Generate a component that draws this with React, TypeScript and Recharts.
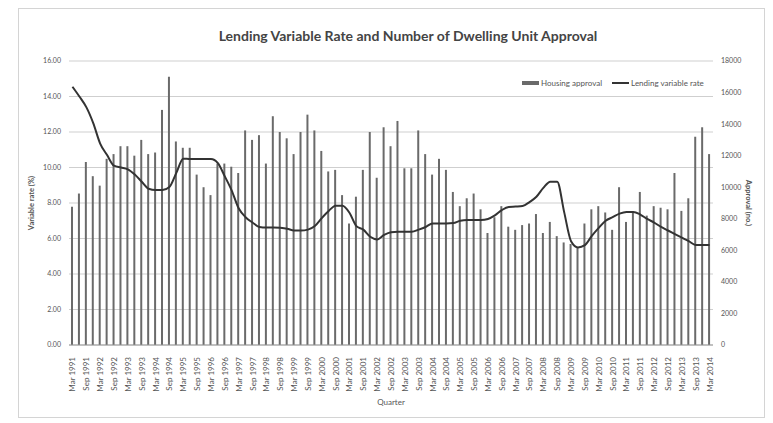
import React from "react";
import {
  ComposedChart,
  Bar,
  Line,
  XAxis,
  YAxis,
  CartesianGrid,
  Label,
} from "recharts";

// Quarter labels, Mar 1991 .. Mar 2014
const quarterMonths = ["Mar", "Jun", "Sep", "Dec"];
const quarters: string[] = [];
for (let yr = 1991; yr <= 2014; yr++) {
  for (const m of quarterMonths) {
    if (yr === 2014 && m !== "Mar") break;
    quarters.push(`${m} ${yr}`);
  }
}

// Dwelling unit approvals per quarter (no.)
const approvals = [
  8770, 9600, 11600, 10700, 10100, 11800, 12100, 12600, 12600, 12000,
  13000, 12100, 12200, 14900, 17000, 12900, 12500, 12500, 10800, 10000,
  9500, 11500, 11500, 11300, 10900, 13600, 13000, 13300, 11500, 14500,
  13500, 13100, 12100, 13500, 14600, 13600, 12300, 11000, 11100, 9500,
  7700, 9400, 11100, 13500, 10600, 13800, 12600, 14200, 11200, 11200,
  13600, 12100, 10800, 11800, 11100, 9700, 8800, 9300, 9600, 8600,
  7100, 8100, 8800, 7500, 7300, 7600, 7700, 8300, 7100, 7800,
  6900, 6500, 6400, 6200, 7700, 8600, 8800, 8400, 7300, 10000,
  7800, 8400, 9700, 8200, 8800, 8700, 8600, 10900, 8500, 9300,
  13200, 13800, 12100,
];

// Lending variable rate (%)
const variableRate = [
  14.55, 14.0, 13.4, 12.5, 11.35, 10.7, 10.1, 10.0, 9.9, 9.6,
  9.2, 8.8, 8.73, 8.73, 8.9, 9.7, 10.5, 10.48, 10.48, 10.48,
  10.48, 10.25, 9.5, 8.7, 7.7, 7.2, 6.9, 6.65, 6.62, 6.62,
  6.6, 6.55, 6.45, 6.45, 6.5, 6.7, 7.15, 7.55, 7.85, 7.85,
  7.45, 6.7, 6.5, 6.1, 5.95, 6.2, 6.35, 6.38, 6.38, 6.38,
  6.5, 6.65, 6.85, 6.85, 6.85, 6.87, 7.0, 7.04, 7.04, 7.04,
  7.1, 7.3, 7.6, 7.78, 7.8, 7.83, 8.05, 8.35, 8.85, 9.2,
  9.2, 7.5, 5.85, 5.5, 5.63, 6.15, 6.6, 7.0, 7.2, 7.4,
  7.5, 7.5, 7.35, 7.1, 6.9, 6.65, 6.45, 6.25, 6.05, 5.85,
  5.63, 5.63, 5.63,
];

const rateTicks = [0, 2, 4, 6, 8, 10, 12, 14, 16];
const approvalTicks = [0, 2000, 4000, 6000, 8000, 10000, 12000, 14000, 16000, 18000];

const data = quarters.map((q, i) => ({
  quarter: q,
  approval: approvals[i],
  rate: variableRate[i],
}));

const FONT = "Lato, 'Open Sans', sans-serif";
const BAR_COLOR = "#6a6a6a";
const LINE_COLOR = "#333333";

function QuarterTick(props: any) {
  const { x, y, payload } = props;
  return (
    <g transform={`translate(${x},${y + 4})`}>
      <text
        transform="rotate(-90)"
        textAnchor="end"
        dy={3}
        fontSize={8}
        fill="#555"
        fontFamily={FONT}
      >
        {payload.value}
      </text>
    </g>
  );
}

// Series key, placed in the upper right of the plot
function SeriesKey() {
  return (
    <div
      style={{
        position: "absolute",
        left: 522,
        top: 78,
        display: "flex",
        gap: 10,
        fontSize: 8,
        color: "#555",
        fontFamily: FONT,
        alignItems: "center",
      }}
    >
      <span style={{ display: "flex", alignItems: "center" }}>
        <span
          style={{
            display: "inline-block",
            width: 17,
            height: 4,
            background: BAR_COLOR,
            marginRight: 2,
          }}
        />
        Housing approval
      </span>
      <span style={{ display: "flex", alignItems: "center" }}>
        <span
          style={{
            display: "inline-block",
            width: 17,
            height: 2,
            background: LINE_COLOR,
            marginRight: 2,
          }}
        />
        Lending variable rate
      </span>
    </div>
  );
}

export default function App() {
  return (
    <div
      style={{
        position: "absolute",
        left: 0,
        top: 0,
        width: 773,
        height: 423,
        background: "#fff",
        fontFamily: FONT,
      }}
    >
      <div
        style={{
          position: "absolute",
          left: 18,
          top: 8,
          width: 745,
          height: 408,
          border: "1px solid #d4d4d4",
        }}
      />
      <div
        style={{
          position: "absolute",
          left: 0,
          top: 27,
          width: 816,
          textAlign: "center",
          fontSize: 14,
          fontWeight: 700,
          color: "#444",
        }}
      >
        Lending Variable Rate and Number of Dwelling Unit Approval
      </div>
      <ComposedChart
        width={773}
        height={423}
        data={data}
        margin={{ top: 61, right: 10, bottom: 16, left: 9 }}
        barCategoryGap={0}
        style={{ position: "absolute", left: 0, top: 0 }}
      >
        <CartesianGrid
          yAxisId="rate"
          vertical={false}
          stroke="#cfcfcf"
          strokeWidth={1}
        />
        <XAxis
          dataKey="quarter"
          interval={1}
          height={62}
          tick={<QuarterTick />}
          tickLine={false}
          axisLine={{ stroke: "#999" }}
        >
          <Label
            value="Quarter"
            position="insideBottom"
            offset={2}
            fontSize={8}
            fill="#555"
            fontFamily={FONT}
          />
        </XAxis>
        <YAxis
          yAxisId="rate"
          orientation="left"
          domain={[0, 16]}
          ticks={rateTicks}
          width={60}
          tickFormatter={(v: number) => v.toFixed(2)}
          tick={{ fontSize: 7, fill: "#555", fontFamily: FONT }}
          tickLine={false}
          axisLine={false}
        >
          <Label
            value="Variable rate (%)"
            angle={-90}
            position="insideLeft"
            offset={22}
            fontSize={7.5}
            fontWeight={700}
            fill="#555"
            fontFamily={FONT}
            style={{ textAnchor: "middle" }}
          />
        </YAxis>
        <YAxis
          yAxisId="approval"
          orientation="right"
          domain={[0, 18000]}
          ticks={approvalTicks}
          width={50}
          tick={{ fontSize: 7, fill: "#555", fontFamily: FONT }}
          tickLine={false}
          axisLine={false}
        >
          <Label
            value="Approval (no.)"
            angle={90}
            position="insideRight"
            offset={14}
            fontSize={7.5}
            fontWeight={700}
            fill="#555"
            fontFamily={FONT}
            style={{ textAnchor: "middle" }}
          />
        </YAxis>
        <Bar
          yAxisId="approval"
          dataKey="approval"
          name="Housing approval"
          fill={BAR_COLOR}
          barSize={2}
          isAnimationActive={false}
        />
        <Line
          yAxisId="rate"
          dataKey="rate"
          name="Lending variable rate"
          type="monotone"
          stroke={LINE_COLOR}
          strokeWidth={2}
          dot={false}
          isAnimationActive={false}
        />
      </ComposedChart>
      <SeriesKey />
    </div>
  );
}
